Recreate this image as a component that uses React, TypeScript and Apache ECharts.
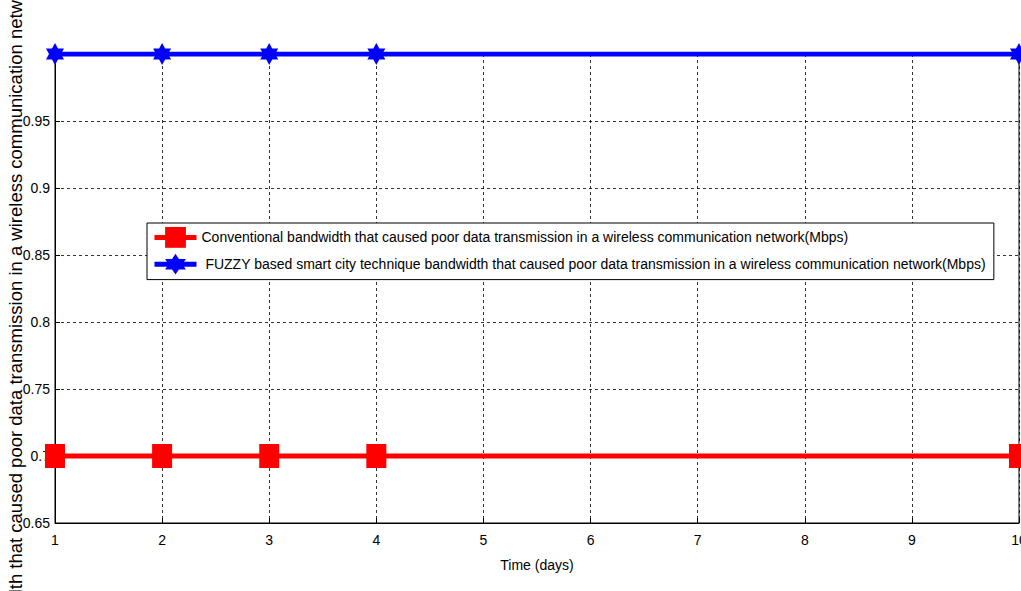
import React, { useEffect, useRef } from "react";
import * as echarts from "echarts";

const days = [1, 2, 3, 4, 10];
const conventional = [0.7, 0.7, 0.7, 0.7, 0.7];
const fuzzy = [1.0, 1.0, 1.0, 1.0, 1.0];
const seriesNames = [
  "Conventional bandwidth that caused poor data transmission in a wireless communication network(Mbps)",
  " FUZZY based smart city technique bandwidth that caused poor data transmission in a wireless communication network(Mbps)",
];
const xAxisTitle = "Time (days)";
const yAxisTitle =
  "Bandwidth that caused poor data transmission in a wireless communication network(Mbps)";
const xRange = [1, 10];
const yRange = [0.65, 1.0];

const hexagram =
  "path://M50 0 L64.4 25 L93.3 25 L78.9 50 L93.3 75 L64.4 75 L50 100 L35.6 75 L6.7 75 L21.1 50 L6.7 25 L35.6 25 Z";

const FONT = "'Liberation Sans', Arial, sans-serif";

export default function App() {
  const ref = useRef<HTMLDivElement>(null);
  useEffect(() => {
    if (!ref.current) return;
    const chart = echarts.init(ref.current, undefined, { renderer: "svg" });
    chart.setOption({
      animation: false,
      backgroundColor: "#ffffff",
      textStyle: { fontFamily: FONT },
      grid: {
        left: 55,
        right: 2,
        top: 54,
        bottom: 68,
        show: true,
        borderColor: "#000",
        borderWidth: 1,
        backgroundColor: "transparent",
        outerBoundsMode: "none",
        containLabel: false,
      },
      legend: {
        orient: "vertical",
        left: 147,
        top: 223,
        padding: [4, 8, 5, 5],
        itemGap: 6,
        itemWidth: 42,
        itemHeight: 26,
        backgroundColor: "#fff",
        borderColor: "#000",
        borderWidth: 1,
        borderRadius: 0,
        lineStyle: { width: 5 },
        textStyle: { fontFamily: FONT, fontSize: 14, color: "#000", padding: [0, 0, 0, 0] },
        data: seriesNames,
      },
      xAxis: {
        type: "value",
        min: xRange[0],
        max: xRange[1],
        interval: 1,
        name: xAxisTitle,
        nameLocation: "middle",
        nameGap: 35,
        nameTextStyle: { fontFamily: FONT, fontSize: 14, color: "#000" },
        axisLine: { show: true, lineStyle: { color: "#000", width: 1 } },
        axisTick: { show: true, inside: true, length: 5, lineStyle: { color: "#000" } },
        axisLabel: { fontFamily: FONT, fontSize: 14, color: "#000", margin: 10 },
        splitLine: { show: true, lineStyle: { color: "#000", type: [3, 3], width: 0.8 } },
      },
      yAxis: {
        type: "value",
        min: yRange[0],
        max: yRange[1],
        interval: 0.05,
        name: yAxisTitle,
        nameLocation: "middle",
        nameGap: 30,
        nameMoveOverlap: false,
        nameTextStyle: { fontFamily: FONT, fontSize: 18.5, color: "#000" },
        axisLine: { show: true, lineStyle: { color: "#000", width: 1 } },
        axisTick: { show: true, inside: true, length: 5, lineStyle: { color: "#000" } },
        axisLabel: { fontFamily: FONT, fontSize: 14, color: "#000", margin: 5, showMaxLabel: false },
        splitLine: { show: true, lineStyle: { color: "#000", type: [3, 3], width: 0.8 } },
      },
      series: [
        {
          name: seriesNames[0],
          type: "line",
          data: days.map((d, i) => [d, conventional[i]]),
          symbol: "rect",
          symbolSize: [20, 24],
          lineStyle: { color: "#ff0000", width: 5 },
          itemStyle: { color: "#ff0000" },
          z: 3,
        },
        {
          name: seriesNames[1],
          type: "line",
          data: days.map((d, i) => [d, fuzzy[i]]),
          symbol: hexagram,
          symbolSize: [18, 22],
          lineStyle: { color: "#0000ff", width: 5 },
          itemStyle: { color: "#0000ff" },
          z: 3,
        },
      ],
    });
    return () => chart.dispose();
  }, []);
  return (
    <div
      ref={ref}
      style={{ position: "absolute", left: 0, top: 0, width: 1021, height: 591 }}
    />
  );
}
